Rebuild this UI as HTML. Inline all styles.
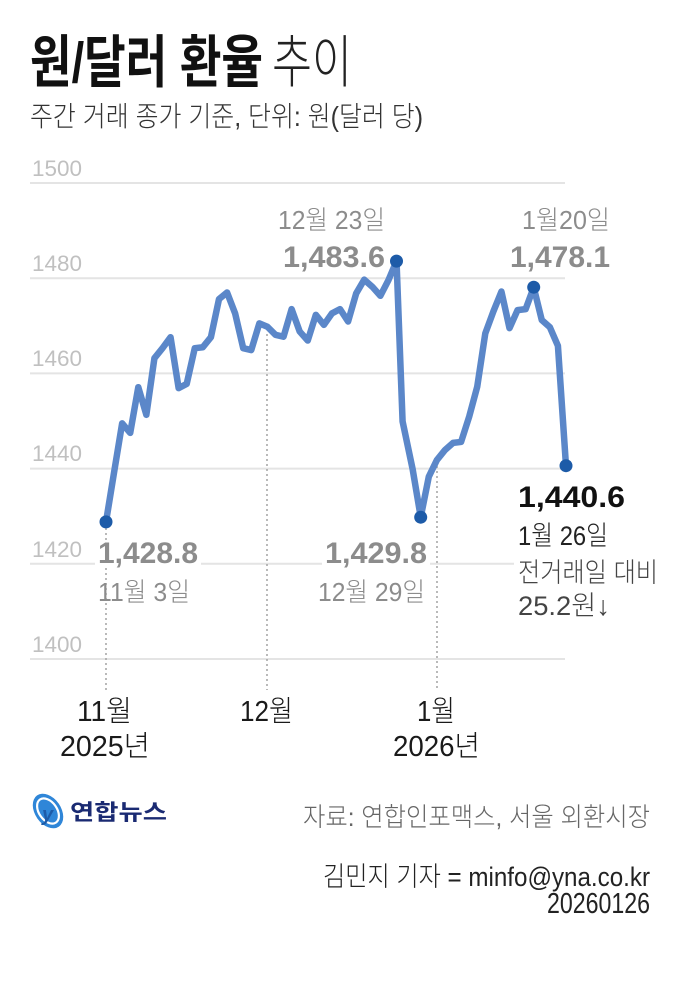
<!DOCTYPE html>
<html><head><meta charset="utf-8"><style>
html,body{margin:0;padding:0;background:#fff;}
svg{display:block;}
text{font-family:"Liberation Sans","Noto Sans CJK KR",sans-serif;}
</style></head><body>
<svg width="681" height="981" viewBox="0 0 681 981" xmlns="http://www.w3.org/2000/svg">
<rect width="681" height="981" fill="#fff"/>
<!-- Title -->
<text x="30" y="82" font-size="57" font-weight="700" fill="#111" textLength="233" lengthAdjust="spacingAndGlyphs">원/달러 환율</text>
<text x="272" y="82" font-size="57" font-weight="300" fill="#222" textLength="80" lengthAdjust="spacingAndGlyphs">추이</text>
<text x="30" y="126" font-size="28" font-weight="300" fill="#333" textLength="393" lengthAdjust="spacingAndGlyphs">주간 거래 종가 기준, 단위: 원(달러 당)</text>

<!-- gridlines -->
<g stroke="#e4e4e4" stroke-width="2">
<line x1="30" y1="183" x2="565" y2="183"/>
<line x1="30" y1="278.2" x2="565" y2="278.2"/>
<line x1="30" y1="373.4" x2="565" y2="373.4"/>
<line x1="30" y1="468.6" x2="565" y2="468.6"/>
<line x1="30" y1="563.8" x2="565" y2="563.8"/>
<line x1="30" y1="659" x2="565" y2="659"/>
</g>
<!-- y labels -->
<g font-size="22" fill="#c0c0c0">
<text x="32" y="176" textLength="50" lengthAdjust="spacingAndGlyphs">1500</text>
<text x="32" y="271" textLength="50" lengthAdjust="spacingAndGlyphs">1480</text>
<text x="32" y="366" textLength="50" lengthAdjust="spacingAndGlyphs">1460</text>
<text x="32" y="461" textLength="50" lengthAdjust="spacingAndGlyphs">1440</text>
<text x="32" y="557" textLength="50" lengthAdjust="spacingAndGlyphs">1420</text>
<text x="32" y="652" textLength="50" lengthAdjust="spacingAndGlyphs">1400</text>
</g>

<!-- vertical dotted lines -->
<g stroke="#a8a8a8" stroke-width="1.6" stroke-dasharray="2 3">
<line x1="106" y1="528" x2="106" y2="690"/>
<line x1="267" y1="334" x2="267" y2="690"/>
<line x1="437" y1="466" x2="437" y2="690"/>
</g>

<!-- white halos behind labels -->
<rect x="95" y="540" width="106" height="27" fill="#fff"/>
<rect x="322" y="540" width="108" height="27" fill="#fff"/>
<rect x="514" y="556" width="52" height="14" fill="#fff"/>

<!-- data line -->
<polyline fill="none" stroke="#5b87c9" stroke-width="6.5" stroke-linejoin="round" stroke-linecap="round"
points="106.00,521.91 114.07,472.41 122.14,423.38 130.21,432.90 138.28,387.20 146.35,414.81 154.42,358.17 162.49,348.17 170.56,337.22 178.63,388.16 186.70,383.87 194.77,348.17 202.84,347.22 210.91,337.22 218.98,299.14 227.05,292.48 235.12,313.42 243.19,348.17 251.26,350.08 259.33,323.42 267.40,326.75 275.47,334.84 283.54,336.75 291.61,309.14 299.68,331.51 307.75,340.56 315.82,314.85 323.89,324.85 331.96,313.42 340.03,309.14 348.10,321.52 356.17,293.43 364.24,279.63 372.31,286.77 380.38,295.81 388.45,280.10 396.52,261.06 402.59,421.48 412.66,469.30 420.73,517.15 428.80,476.69 436.87,460.03 444.94,450.04 453.01,442.90 461.08,441.94 469.15,416.72 477.22,386.73 485.29,333.42 493.36,311.52 501.43,291.53 509.50,328.18 517.57,310.09 525.64,309.14 533.71,287.24 541.78,320.09 549.85,327.23 557.92,345.79 565.99,465.74"/>
<g fill="#1d5ba8">
<circle cx="106" cy="521.9" r="6.5"/>
<circle cx="396.5" cy="261.1" r="6.5"/>
<circle cx="420.7" cy="517.2" r="6.5"/>
<circle cx="533.7" cy="287.2" r="6.5"/>
<circle cx="566" cy="465.7" r="6.5"/>
</g>

<!-- annotations -->
<g fill="#8c8c8c">
<text x="278" y="229" font-size="26" font-weight="300" textLength="107" lengthAdjust="spacingAndGlyphs">12월 23일</text>
<text x="283" y="267" font-size="30" font-weight="700" textLength="102" lengthAdjust="spacingAndGlyphs">1,483.6</text>
<text x="522" y="229" font-size="26" font-weight="300" textLength="88" lengthAdjust="spacingAndGlyphs">1월20일</text>
<text x="510" y="267" font-size="30" font-weight="700" textLength="100" lengthAdjust="spacingAndGlyphs">1,478.1</text>
<text x="98" y="563" font-size="30" font-weight="700" textLength="100" lengthAdjust="spacingAndGlyphs">1,428.8</text>
<text x="98" y="601" font-size="26" font-weight="300" textLength="92" lengthAdjust="spacingAndGlyphs">11월 3일</text>
<text x="325" y="563" font-size="30" font-weight="700" textLength="102" lengthAdjust="spacingAndGlyphs">1,429.8</text>
<text x="318" y="601" font-size="26" font-weight="300" textLength="107" lengthAdjust="spacingAndGlyphs">12월 29일</text>
</g>
<text x="518" y="507" font-size="30" font-weight="700" fill="#111" textLength="107" lengthAdjust="spacingAndGlyphs">1,440.6</text>
<text x="518" y="545" font-size="27" font-weight="300" fill="#222" textLength="90" lengthAdjust="spacingAndGlyphs">1월 26일</text>
<text x="518" y="582" font-size="27" font-weight="300" fill="#444" textLength="140" lengthAdjust="spacingAndGlyphs">전거래일 대비</text>
<text x="518" y="615" font-size="27" font-weight="300" fill="#444" textLength="92" lengthAdjust="spacingAndGlyphs">25.2원↓</text>

<!-- x axis labels -->
<g fill="#1a1a1a" font-size="29" font-weight="300">
<text x="77" y="721" textLength="55" lengthAdjust="spacingAndGlyphs">11월</text>
<text x="60" y="756" textLength="90" lengthAdjust="spacingAndGlyphs">2025년</text>
<text x="240" y="721" textLength="53" lengthAdjust="spacingAndGlyphs">12월</text>
<text x="417" y="721" textLength="38" lengthAdjust="spacingAndGlyphs">1월</text>
<text x="393" y="756" textLength="87" lengthAdjust="spacingAndGlyphs">2026년</text>
</g>

<!-- logo -->
<g transform="translate(48,811) rotate(-35)">
<ellipse cx="0" cy="0" rx="13" ry="19" fill="#2f86d8"/>
<ellipse cx="0" cy="0" rx="9" ry="14" fill="none" stroke="#fff" stroke-width="2.2"/>
</g>
<text x="42" y="821" font-size="20" font-weight="700" font-style="italic" fill="#1d5ba8">y</text>
<text x="70" y="820" font-size="22" font-weight="700" fill="#1a2a72" textLength="97" lengthAdjust="spacingAndGlyphs">연합뉴스</text>

<!-- footer -->
<text x="303" y="826" font-size="26" font-weight="300" fill="#666" textLength="347" lengthAdjust="spacingAndGlyphs">자료: 연합인포맥스, 서울 외환시장</text>
<text x="323" y="886" font-size="27" font-weight="300" fill="#222" textLength="327" lengthAdjust="spacingAndGlyphs">김민지 기자 = minfo@yna.co.kr</text>
<text x="547" y="913" font-size="29" font-weight="300" fill="#222" textLength="103" lengthAdjust="spacingAndGlyphs">20260126</text>
</svg>
</body></html>
